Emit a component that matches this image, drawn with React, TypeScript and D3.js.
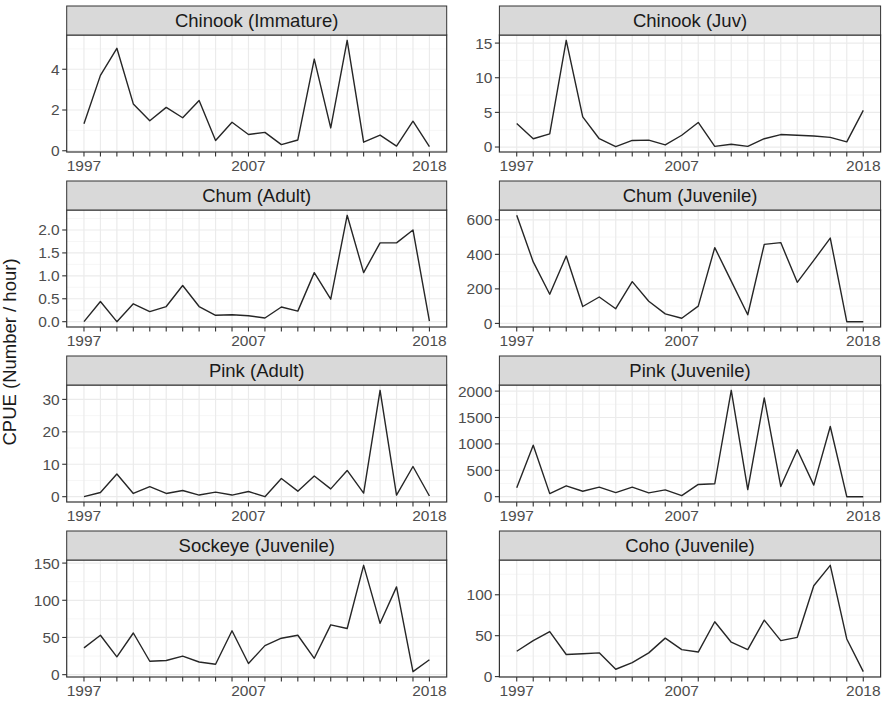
import React, { useEffect, useRef } from "react";
import * as d3 from "d3";

const years = [1997, 1998, 1999, 2000, 2001, 2002, 2003, 2004, 2005, 2006, 2007, 2008, 2009, 2010, 2011, 2012, 2013, 2014, 2015, 2016, 2017, 2018];
const xTickLabels = [1997, 2007, 2018];
const yAxisTitle = "CPUE (Number / hour)";

const panelTitles = [
  "Chinook (Immature)", "Chinook (Juv)",
  "Chum (Adult)", "Chum (Juvenile)",
  "Pink (Adult)", "Pink (Juvenile)",
  "Sockeye (Juvenile)", "Coho (Juvenile)",
];

const chinookImmature = [1.33, 3.7, 5.03, 2.3, 1.47, 2.13, 1.62, 2.47, 0.5, 1.4, 0.8, 0.9, 0.3, 0.53, 4.5, 1.12, 5.42, 0.42, 0.77, 0.23, 1.45, 0.2];
const chinookJuv = [3.4, 1.2, 1.9, 15.4, 4.35, 1.2, 0.05, 0.95, 1.0, 0.3, 1.7, 3.55, 0.1, 0.4, 0.1, 1.2, 1.8, 1.7, 1.6, 1.4, 0.75, 5.3];
const chumAdult = [0.0, 0.44, 0.0, 0.39, 0.22, 0.33, 0.79, 0.33, 0.14, 0.15, 0.13, 0.08, 0.32, 0.23, 1.07, 0.49, 2.32, 1.07, 1.72, 1.72, 2.0, 0.01];
const chumJuvenile = [626, 356, 169, 390, 98, 153, 85, 242, 128, 55, 30, 100, 439, 245, 50, 458, 468, 238, 365, 494, 10, 10];
const pinkAdult = [0, 1.3, 7.0, 1.0, 3.1, 1.0, 1.9, 0.5, 1.4, 0.5, 1.6, 0, 5.6, 1.7, 6.4, 2.4, 8.1, 1.1, 32.8, 0.5, 9.3, 0.2];
const pinkJuvenile = [168, 974, 58, 206, 103, 180, 77, 180, 71, 129, 19, 232, 245, 2015, 135, 1870, 193, 890, 219, 1329, 0, 0];
const sockeyeJuvenile = [36, 53, 24, 56, 18, 19, 25, 17, 14, 59, 15, 39, 49, 53, 22, 67, 62, 147, 69, 118, 4, 20];
const cohoJuvenile = [31, 44, 55, 27, 28, 29, 9, 17, 29, 47, 33, 30, 67, 42, 33, 69, 44, 48, 111, 136, 46, 6];

const ticksChinookImmature = [0, 2, 4];
const ticksChinookJuv = [0, 5, 10, 15];
const ticksChumAdult = [0, 0.5, 1.0, 1.5, 2.0];
const ticksChumJuvenile = [0, 200, 400, 600];
const ticksPinkAdult = [0, 10, 20, 30];
const ticksPinkJuvenile = [0, 500, 1000, 1500, 2000];
const ticksSockeye = [0, 50, 100, 150];
const ticksCoho = [0, 50, 100];

const seriesList = [chinookImmature, chinookJuv, chumAdult, chumJuvenile, pinkAdult, pinkJuvenile, sockeyeJuvenile, cohoJuvenile];
const tickList = [ticksChinookImmature, ticksChinookJuv, ticksChumAdult, ticksChumJuvenile, ticksPinkAdult, ticksPinkJuvenile, ticksSockeye, ticksCoho];
const tickFormats = ["d", "d", ".1f", "d", "d", "d", "d", "d"];

const FONT = "'Liberation Sans', Arial, Helvetica, sans-serif";

export default function App() {
  const ref = useRef<SVGSVGElement>(null);

  useEffect(() => {
    const svg = d3.select(ref.current);
    svg.selectAll("*").remove();
    svg.append("rect").attr("width", 883).attr("height", 702).attr("fill", "#ffffff");

    const colX = [[66.7, 446.7], [499.4, 880.6]];
    const stripH = 29;

    panelTitles.forEach((title, i) => {
      const col = i % 2;
      const row = Math.floor(i / 2);
      const [x0, x1] = colX[col];
      const stripTop = 6 + row * 175;
      const pTop = stripTop + stripH;
      const pBottom = stripTop + 146;
      const values = seriesList[i];
      const ticks = tickList[i];
      const fmt = d3.format(tickFormats[i]);

      const xPad = (years[years.length - 1] - years[0]) * 0.05;
      const x = d3.scaleLinear().domain([years[0] - xPad, years[years.length - 1] + xPad]).range([x0, x1]);
      const [mn, mx] = d3.extent(values) as [number, number];
      const yPad = (mx - mn) * 0.05;
      const y = d3.scaleLinear().domain([mn - yPad, mx + yPad]).range([pBottom, pTop]);

      const g = svg.append("g");
      g.append("rect").attr("x", x0).attr("y", pTop).attr("width", x1 - x0).attr("height", pBottom - pTop).attr("fill", "#fff");

      // minor grid
      const step = ticks[1] - ticks[0];
      const minor: number[] = [];
      for (let v = ticks[0] - step / 2; v <= mx + yPad; v += step) {
        if (v >= mn - yPad) minor.push(v);
      }
      g.selectAll(".minor").data(minor).enter().append("line")
        .attr("x1", x0).attr("x2", x1)
        .attr("y1", (d) => y(d)).attr("y2", (d) => y(d))
        .attr("stroke", "#F4F4F4").attr("stroke-width", 0.8);
      g.selectAll(".major").data(ticks).enter().append("line")
        .attr("x1", x0).attr("x2", x1)
        .attr("y1", (d) => y(d)).attr("y2", (d) => y(d))
        .attr("stroke", "#EBEBEB").attr("stroke-width", 1.2);
      g.selectAll(".vgrid").data(years).enter().append("line")
        .attr("x1", (d) => x(d)).attr("x2", (d) => x(d))
        .attr("y1", pTop).attr("y2", pBottom)
        .attr("stroke", "#EBEBEB").attr("stroke-width", 1.2);

      // data line
      const line = d3.line<number>().x((_, k) => x(years[k])).y((d) => y(d));
      g.append("path").datum(values).attr("d", line).attr("fill", "none")
        .attr("stroke", "#262626").attr("stroke-width", 1.4).attr("stroke-linejoin", "round");

      // panel border
      g.append("rect").attr("x", x0).attr("y", pTop).attr("width", x1 - x0).attr("height", pBottom - pTop)
        .attr("fill", "none").attr("stroke", "#333333").attr("stroke-width", 1.2);

      // strip
      g.append("rect").attr("x", x0).attr("y", stripTop).attr("width", x1 - x0).attr("height", stripH)
        .attr("fill", "#D9D9D9").attr("stroke", "#333333").attr("stroke-width", 1.0);
      g.append("text").attr("x", (x0 + x1) / 2).attr("y", stripTop + stripH / 2)
        .attr("dy", "0.35em").attr("text-anchor", "middle")
        .attr("font-family", FONT).attr("font-size", 18.5).attr("fill", "#1A1A1A").text(title);

      // x ticks
      g.selectAll(".xt").data(years).enter().append("line")
        .attr("x1", (d) => x(d)).attr("x2", (d) => x(d))
        .attr("y1", pBottom).attr("y2", pBottom + 4.5)
        .attr("stroke", "#333333").attr("stroke-width", 1.1);
      g.selectAll(".xl").data(xTickLabels).enter().append("text")
        .attr("x", (d) => x(d)).attr("y", pBottom + 19)
        .attr("text-anchor", "middle").attr("font-family", FONT).attr("font-size", 15.5)
        .attr("fill", "#4D4D4D").text((d) => String(d));

      // y ticks
      g.selectAll(".yt").data(ticks).enter().append("line")
        .attr("x1", x0 - 4.5).attr("x2", x0)
        .attr("y1", (d) => y(d)).attr("y2", (d) => y(d))
        .attr("stroke", "#333333").attr("stroke-width", 1.1);
      g.selectAll(".yl").data(ticks).enter().append("text")
        .attr("x", x0 - 7).attr("y", (d) => y(d)).attr("dy", "0.35em")
        .attr("text-anchor", "end").attr("font-family", FONT).attr("font-size", 15.5)
        .attr("fill", "#4D4D4D").text((d) => fmt(d));
    });

    svg.append("text")
      .attr("transform", "translate(16,352) rotate(-90)")
      .attr("text-anchor", "middle").attr("font-family", FONT).attr("font-size", 18.5)
      .attr("fill", "#1A1A1A").text(yAxisTitle);
  }, []);

  return (
    <svg ref={ref} width={883} height={702} style={{ position: "absolute", left: 0, top: 0, display: "block" }} />
  );
}
